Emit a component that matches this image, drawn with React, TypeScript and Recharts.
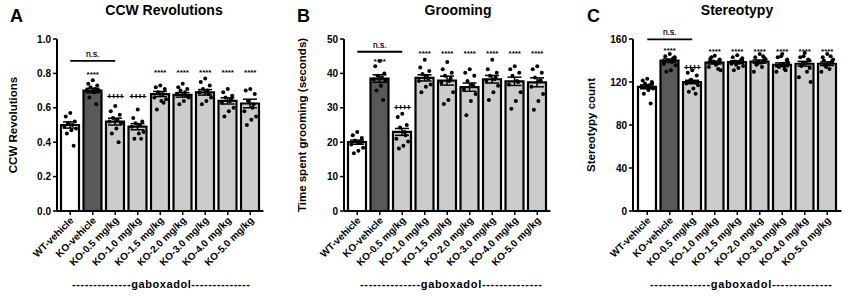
import { ComposedChart, Bar, Cell, ErrorBar, Scatter, XAxis, YAxis, ReferenceLine } from 'recharts'

const FONT = '"Liberation Sans", Arial, sans-serif'

const groups = ['WT-vehicle', 'KO-vehicle', 'KO-0.5 mg/kg', 'KO-1.0 mg/kg', 'KO-1.5 mg/kg', 'KO-2.0 mg/kg', 'KO-3.0 mg/kg', 'KO-4.0 mg/kg', 'KO-5.0 mg/kg']
const barFills = ['#ffffff', '#595959', '#cccccc', '#cccccc', '#cccccc', '#cccccc', '#cccccc', '#cccccc', '#cccccc']

// panel A - CCW revolutions
const ccwMean = [0.5, 0.7, 0.52, 0.49, 0.68, 0.675, 0.69, 0.64, 0.625]
const ccwSem = [0.018, 0.013, 0.02, 0.018, 0.015, 0.013, 0.016, 0.018, 0.025]
const ccwDots = [
  [0.57, 0.55, 0.52, 0.51, 0.5, 0.49, 0.48, 0.47, 0.45, 0.38],
  [0.76, 0.74, 0.73, 0.72, 0.71, 0.7, 0.7, 0.69, 0.66, 0.62],
  [0.61, 0.58, 0.56, 0.54, 0.53, 0.52, 0.51, 0.48, 0.45, 0.4],
  [0.59, 0.54, 0.52, 0.51, 0.5, 0.49, 0.46, 0.45, 0.42, 0.42],
  [0.73, 0.72, 0.71, 0.69, 0.68, 0.66, 0.65, 0.64, 0.59, 0.63],
  [0.74, 0.72, 0.71, 0.7, 0.69, 0.68, 0.66, 0.64, 0.62, 0.67],
  [0.77, 0.75, 0.73, 0.71, 0.7, 0.69, 0.66, 0.64, 0.62, 0.68],
  [0.71, 0.69, 0.67, 0.66, 0.64, 0.63, 0.6, 0.58, 0.55, 0.65],
  [0.71, 0.7, 0.68, 0.64, 0.6, 0.58, 0.55, 0.53, 0.5, 0.62],
]
const ccwSig = ['', '****', '++++', '++++', '****', '****', '****', '****', '****']
const ccwSigAt = [0, 0.807, 0.668, 0.668, 0.815, 0.815, 0.815, 0.815, 0.815]

// panel B - grooming
const groomMean = [20, 38.5, 23, 38.7, 37.9, 36, 38.3, 37.7, 37.4]
const groomSem = [0.6, 1.1, 1.0, 0.9, 1.3, 1.2, 1.1, 1.2, 1.3]
const groomDots = [
  [23, 22, 21.2, 20.5, 19.8, 19.3, 18.4, 17.5, 16.8, 20],
  [43.6, 42.1, 40, 39.3, 38.8, 38.3, 37.8, 36.4, 35, 32.3],
  [28.3, 27.3, 25, 24.3, 23, 21, 20.2, 19, 18.2, 22],
  [44, 41.7, 40.7, 39.8, 39.3, 37.8, 36.8, 36.1, 34.5, 38.5],
  [43.3, 41.2, 40.2, 39.3, 37.8, 37.3, 34.5, 32.3, 31.1, 38.5],
  [41.2, 40.2, 39.3, 37.8, 36.8, 35.4, 34, 32, 27.8, 36.5],
  [44, 41.2, 40.2, 39.3, 38.3, 37.8, 36.4, 34.5, 32.3, 38.8],
  [42.1, 41.2, 40.2, 39.3, 37.8, 36.8, 34.5, 32, 29.7, 37.5],
  [42.1, 41.2, 40.2, 38.8, 37.8, 36.1, 34, 32, 29.4, 38],
]
const groomSig = ['', '****', '++++', '****', '****', '****', '****', '****', '****']
const groomSigAt = [0, 44.1, 30.2, 46.3, 46.3, 46.3, 46.3, 46.3, 46.3]

// panel C - stereotypy
const stereoMean = [115.5, 140, 120, 138, 138.5, 139, 136, 137, 137]
const stereoSem = [1.8, 1.4, 1.6, 1.3, 1.2, 1.5, 1.8, 2.2, 1.7]
const stereoDots = [
  [123, 121.5, 120, 118.5, 117, 115.5, 114, 112.5, 109, 100, 116, 119],
  [146, 144, 141.5, 140, 138.5, 137, 135.5, 131, 129.5, 142, 139, 143],
  [131, 128.5, 126, 121.5, 120, 118.5, 117, 114, 111, 109, 122, 119],
  [144.5, 141.5, 140, 138.5, 137, 134, 131, 136, 143, 132, 139, 141],
  [145, 143, 141, 139, 138, 137, 135, 133, 131, 140, 136, 142],
  [146, 143, 140, 137, 134, 129.5, 141, 138, 136, 144, 139, 142],
  [146, 143, 140, 135.5, 132, 129.5, 138, 137, 134, 131, 144, 141],
  [147, 143, 140, 137, 129.5, 124.5, 120, 138, 135, 141, 144, 133],
  [146, 143, 138.5, 135.5, 132, 129.5, 141, 137, 140, 144, 134, 139],
]
const stereoSig = ['', '****', '++++', '****', '****', '****', '****', '****', '****']
const stereoSigAt = [0, 151.6, 134, 150, 150, 150, 150, 150, 150]

// horizontal spread of dots inside a bar, by index
const spread = [0, -0.2, 0.2, -0.1, 0.1, -0.26, 0.26, 0.05, -0.15, 0.15, -0.05, 0.22]

function XTick({ x, y, payload }: any) {
  const ax = x + 4
  const ay = y + 4
  return (
    <text x={ax} y={ay} transform={`rotate(-45 ${ax} ${ay})`} textAnchor="end" fontSize={10} fontWeight="bold" fontFamily={FONT} fill="#000">
      {payload.value}
    </text>
  )
}

function NsLabel({ viewBox }: any) {
  const cx = viewBox.x + viewBox.width / 2
  return (
    <text x={cx} y={viewBox.y - 4} textAnchor="middle" fontSize={8.5} fontFamily={FONT} fill="#000" stroke="#000" strokeWidth={0.2}>
      n.s.
    </text>
  )
}

function SigMark(s: any) {
  const stars = s.payload.t === '****'
  return (
    <text
      x={s.cx}
      y={s.cy + (stars ? 4.6 : 2.8)}
      textAnchor="middle"
      fontSize={8}
      fontWeight="bold"
      letterSpacing={stars ? 0 : -0.6}
      fontFamily={FONT}
      fill="#000"
      stroke="#000"
      strokeWidth={stars ? 0 : 0.35}
    >
      {s.payload.t}
    </text>
  )
}

interface PanelProps {
  left: number
  width: number
  yWidth: number
  marginRight: number
  pad: number
  letter: string
  letterX: number
  title: string
  titleX: number
  yLabel: string
  yLabelX: number
  gabX: number
  gabW: number
  mean: number[]
  sem: number[]
  dots: number[][]
  sig: string[]
  sigAt: number[]
  domain: [number, number]
  ticks: number[]
  fmt: (v: number) => string
  nsAt: number
}

function Panel(p: PanelProps) {
  const rows = groups.map((name, i) => ({ name, mean: p.mean[i], sem: p.sem[i] }))
  const dotData = p.dots.flatMap((vals, i) => vals.map((v, k) => ({ x: i + spread[k % spread.length], y: v })))
  const sigData = p.sig.map((t, i) => ({ x: i, y: p.sigAt[i], t })).filter((d) => d.t)

  return (
    <div style={{ position: 'absolute', left: p.left, top: 0, width: p.width, height: 297 }}>
      <ComposedChart width={p.width} height={297} data={rows} margin={{ top: 39, right: p.marginRight, bottom: 0, left: 0 }}>
        <XAxis
          dataKey="name"
          interval={0}
          height={86}
          padding={{ left: p.pad, right: p.pad }}
          tick={<XTick />}
          tickSize={4}
          stroke="#000"
          strokeWidth={2}
          tickLine={{ stroke: '#000', strokeWidth: 1.5 }}
        />
        <XAxis xAxisId="j" type="number" dataKey="x" domain={[-0.5, 8.5]} padding={{ left: p.pad, right: p.pad }} allowDataOverflow hide />
        <YAxis
          width={p.yWidth}
          type="number"
          domain={p.domain}
          ticks={p.ticks}
          tickFormatter={p.fmt}
          tickSize={4}
          tickMargin={2}
          stroke="#000"
          strokeWidth={2}
          tickLine={{ stroke: '#000', strokeWidth: 1.5 }}
          tick={{ fontSize: 10, fontWeight: 'bold', fill: '#000', fontFamily: FONT }}
        />
        <Bar dataKey="mean" barSize={18} stroke="#000" strokeWidth={2.2} isAnimationActive={false}>
          {rows.map((r, i) => (
            <Cell key={r.name} fill={barFills[i]} />
          ))}
          <ErrorBar dataKey="sem" width={7} stroke="#000" strokeWidth={1.5} direction="y" />
        </Bar>
        <Scatter
          xAxisId="j"
          data={dotData}
          dataKey="y"
          isAnimationActive={false}
          shape={(s: any) => <circle cx={s.cx} cy={s.cy} r={2} fill="#000" />}
        />
        <Scatter xAxisId="j" data={sigData} dataKey="y" isAnimationActive={false} shape={SigMark} />
        <ReferenceLine
          xAxisId="j"
          segment={[{ x: 0, y: p.nsAt }, { x: 2, y: p.nsAt }]}
          stroke="#000"
          strokeWidth={1.8}
          label={<NsLabel />}
        />
      </ComposedChart>
      <svg width={p.width} height={297} style={{ position: 'absolute', left: 0, top: 0, pointerEvents: 'none' }} fontFamily={FONT} fontWeight="bold" fill="#000">
        <text x={p.letterX} y={22} fontSize={18}>{p.letter}</text>
        <text x={p.titleX} y={15} fontSize={14} textAnchor="middle">{p.title}</text>
        <text transform={`translate(${p.yLabelX},125) rotate(-90)`} fontSize={11.5} textAnchor="middle" dominantBaseline="central">
          {p.yLabel}
        </text>
        <text x={p.gabX} y={288} fontSize={11} textAnchor="middle" textLength={p.gabW} lengthAdjust="spacing">
          --------------gaboxadol--------------
        </text>
      </svg>
    </div>
  )
}

export default function App() {
  return (
    <div style={{ position: 'absolute', left: 0, top: 0, width: 850, height: 297, background: '#fff' }}>
      <Panel
        left={0} width={285} yWidth={57} marginRight={21.5} pad={2}
        letter="A" letterX={10} title="CCW Revolutions" titleX={164}
        yLabel="CCW Revolutions" yLabelX={13} gabX={161} gabW={178}
        mean={ccwMean} sem={ccwSem} dots={ccwDots} sig={ccwSig} sigAt={ccwSigAt}
        domain={[0, 1]} ticks={[0, 0.2, 0.4, 0.6, 0.8, 1]} fmt={(v) => v.toFixed(1)} nsAt={0.873}
      />
      <Panel
        left={285} width={285} yWidth={59} marginRight={19.5} pad={2}
        letter="B" letterX={12} title="Grooming" titleX={173}
        yLabel="Time spent grooming  (seconds)" yLabelX={17} gabX={166} gabW={182}
        mean={groomMean} sem={groomSem} dots={groomDots} sig={groomSig} sigAt={groomSigAt}
        domain={[0, 50]} ticks={[0, 10, 20, 30, 40, 50]} fmt={(v) => String(v)} nsAt={46.3}
      />
      <Panel
        left={570} width={280} yWidth={63} marginRight={8.5} pad={3}
        letter="C" letterX={17} title="Stereotypy" titleX={167}
        yLabel="Stereotypy count" yLabelX={21} gabX={171} gabW={182}
        mean={stereoMean} sem={stereoSem} dots={stereoDots} sig={stereoSig} sigAt={stereoSigAt}
        domain={[0, 160]} ticks={[0, 40, 80, 120, 160]} fmt={(v) => String(v)} nsAt={159.7}
      />
    </div>
  )
}
